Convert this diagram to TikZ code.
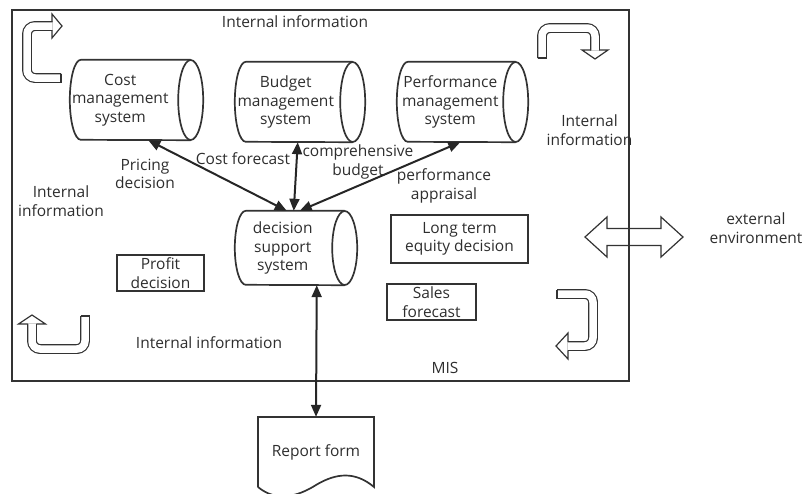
\documentclass[tikz,border=0pt]{standalone}
\usepackage{fontspec}
\setmainfont{Open Sans}
\usetikzlibrary{arrows.meta}
% #1 node, #2 y radius, #3 distance from node east to ellipse centre
\newcommand\cylout[3]{%
  \draw[ln] ([xshift=#3]#1.north east) -- ([xshift=11pt]#1.north west)
    arc[start angle=90,end angle=270,x radius=11pt,y radius=#2]
    -- ([xshift=#3]#1.south east);
  \draw[ln] ([xshift=#3]#1.east) ellipse[x radius=12.5pt,y radius=#2];}
\begin{document}
\begin{tikzpicture}[x=1pt,y=-1pt,
  ln/.style={draw=black!80, line width=1.7pt},
  txt/.style={text=black!82, font=\fontsize{15.5}{18.5}\selectfont, align=center, inner sep=0pt},
  boxnode/.style={txt, draw=black!80, line width=1.6pt},
  conn/.style={draw=black!85, line width=2pt, {Triangle[length=12pt,width=10pt]}-{Triangle[length=12pt,width=10pt]}},
  hol/.style={draw=black!80, line width=1.2pt, double=white, double distance=7.5pt, rounded corners=8pt},
  holhead/.style={draw=black!80, line width=1.2pt, line join=miter},
]
\useasboundingbox (0,0) rectangle (811,493);

% big double hollow arrow
\draw[holhead] (585,237) -- (607,217) -- (607,228.5) -- (661,228.5) -- (661,217) -- (683,237)
  -- (661,257) -- (661,245.5) -- (607,245.5) -- (607,257) -- cycle;

% main MIS frame
\draw[ln] (12,10) rectangle (629,381);

% hollow U-turn arrows
% top-left
\draw[hol] (61,78) -- (27,78) -- (27,26) -- (52.5,26);
\draw[holhead] (61,73.5) -- (61,82.5);
\draw[holhead] (52,30.5) -- (52,38) -- (62,26) -- (52,14) -- (52,21.5);
% top-right
\draw[hol] (542,58) -- (542,28) -- (595,28) -- (595,50.5);
\draw[holhead] (537.5,58) -- (546.5,58);
\draw[holhead] (590.5,50) -- (582,50) -- (595,59) -- (608,50) -- (599.5,50);
% bottom-left
\draw[hol] (85,316) -- (85,349) -- (32,349) -- (32,323.5);
\draw[holhead] (80.5,316) -- (89.5,316);
\draw[holhead] (27.5,324) -- (18.5,324) -- (32,315) -- (45.5,324) -- (36.5,324);
% bottom-right
\draw[hol] (557,294) -- (593,294) -- (593,346) -- (567.5,346);
\draw[holhead] (557,289.5) -- (557,298.5);
\draw[holhead] (568,341.5) -- (568,333) -- (556,346) -- (568,359) -- (568,350.5);

% cylinders
\node[txt, minimum width=100.5pt, minimum height=80pt] (cost) at (120.25,100) {Cost\\management\\system};
\cylout{cost}{40pt}{20pt}
\node[txt, minimum width=101.5pt, minimum height=80pt] (budget) at (285.75,102) {Budget\\management\\system};
\cylout{budget}{40pt}{16pt}
\node[txt, minimum width=106.5pt, minimum height=80pt] (perf) at (450.25,102) {Performance\\management\\system};
\cylout{perf}{40pt}{12pt}
\node[txt, minimum width=95.5pt, minimum height=74pt] (dss) at (282.75,248) {decision\\support\\system};
\cylout{dss}{37pt}{14pt}

% rectangles
\node[boxnode, minimum width=87pt, minimum height=36pt] (profit) at (160.5,273) {Profit\\decision};
\node[boxnode, minimum width=137pt, minimum height=48pt] (longterm) at (459.5,239) {Long term\\equity decision};
\node[boxnode, minimum width=89pt, minimum height=36pt] (sales) at (431.5,302) {Sales\\forecast};

% report form
\node[txt, minimum width=116pt, minimum height=70pt] (report) at (316,452) {Report form};
\draw[ln] (258,487) -- (258,417) -- (374,417) -- (374,487)
  .. controls (355,471) and (336,473) .. (316,485)
  .. controls (297,497) and (276,502) .. (258,487);

% connectors
\draw[conn] ([xshift=28pt]cost.south) -- ([xshift=4pt]dss.north);
\draw[conn] ([xshift=12pt]budget.south) -- ([xshift=11pt]dss.north);
\draw[conn] ([xshift=10pt]perf.south) -- ([xshift=17pt]dss.north);
\draw[conn] ([xshift=34pt]dss.south) -- (report.north);

% labels
\node[txt] (it) at (295,22) {Internal information};
\node[txt] (ir) at (589.5,130) {Internal\\information};
\node[txt] (il) at (61,201) {Internal\\information};
\node[txt] (ib) at (209,343) {Internal information};
\node[txt] (mis) at (445,368) {MIS};
\node[txt] (pricing) at (145,174) {Pricing\\decision};
\node[txt] (costf) at (243,159) {Cost forecast};
\node[txt] (comp) at (358,162) {comprehensive\\budget};
\node[txt] (pa) at (444,186) {performance\\appraisal};
\node[txt] (ext) at (756,228) {external\\environment};
\end{tikzpicture}
\end{document}
